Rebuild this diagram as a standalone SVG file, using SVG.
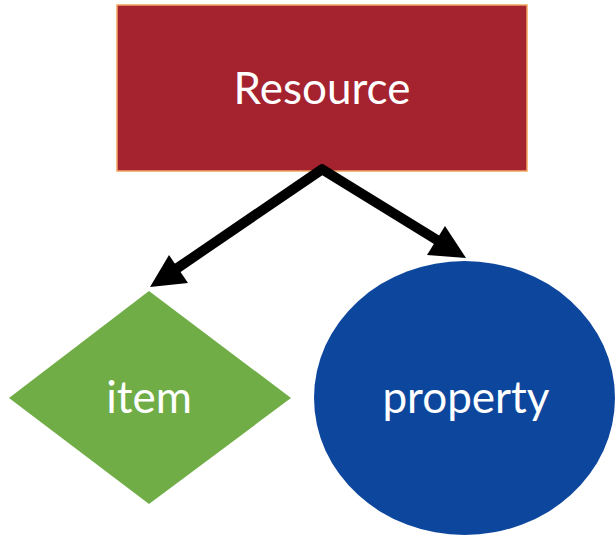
<svg xmlns="http://www.w3.org/2000/svg" width="616" height="536" viewBox="0 0 616 536">
<style>
.lbl{font-family:Lato,"Open Sans","Liberation Sans",sans-serif;font-size:44px;fill:#ffffff;text-anchor:middle}
.conn line{stroke:#000;stroke-width:10}
.conn polygon{fill:#000}
</style>
<rect width="616" height="536" fill="#ffffff"/>
<g id="resource">
<rect x="117" y="5" width="410" height="166" fill="#A5222F" stroke="#F4A460" stroke-width="1.5"/>
<text class="lbl" x="322" y="104">Resource</text>
</g>
<g id="item">
<polygon points="149,291 291,398 149,504 9,398" fill="#70AD47"/>
<text class="lbl" x="149" y="413">item</text>
</g>
<g id="property">
<ellipse cx="464.5" cy="398" rx="150.5" ry="137" fill="#0D479D"/>
<text class="lbl" x="466" y="413">property</text>
</g>
<g id="connectors" class="conn">
<line x1="324" y1="168" x2="176" y2="269"/>
<polygon points="150,287 169,255 188,283"/>
<line x1="320" y1="168" x2="437" y2="240"/>
<polygon points="466,258 427,255 445,226"/>
</g>
</svg>
